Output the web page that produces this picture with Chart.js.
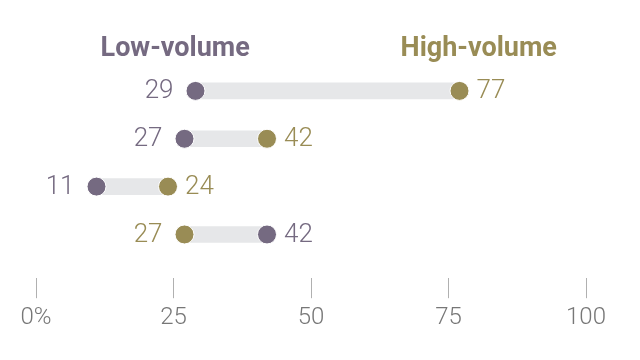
<!DOCTYPE html>
<html>
<head>
<meta charset="utf-8">
<script src="https://cdn.jsdelivr.net/npm/chart.js@4"></script>
<style>
  html, body { margin: 0; padding: 0; background: #fff; }
  #wrap { width: 640px; height: 360px; position: relative; }
</style>
</head>
<body>
<div id="wrap"><canvas id="dumbbell"></canvas></div>
<script>
const rows = [0, 1, 2, 3];
const lowVolume = [29, 27, 11, 42];
const highVolume = [77, 42, 24, 27];
const xTicks = [0, 25, 50, 75, 100];

const LOW_COLOR = '#756a81';
const HIGH_COLOR = '#998c55';
const BAR_COLOR = '#e6e7e9';
const NUM_FONT = '300 26px "Roboto", sans-serif';

// etiquetas de valor y encabezados
const labelPlugin = {
    id: 'dumbbellLabels',
    afterDatasetsDraw(chart) {
        const ctx = chart.ctx;
        const xs = chart.scales.x;
        const ys = chart.scales.y;
        ctx.save();
        ctx.font = NUM_FONT;
        ctx.textBaseline = 'middle';
        rows.forEach((r, i) => {
            const y = ys.getPixelForValue(r) + 1;
            const lo = lowVolume[i], hi = highVolume[i];
            const leftVal = Math.min(lo, hi), rightVal = Math.max(lo, hi);
            const leftColor = lo <= hi ? LOW_COLOR : HIGH_COLOR;
            const rightColor = lo <= hi ? HIGH_COLOR : LOW_COLOR;
            ctx.fillStyle = leftColor;
            ctx.textAlign = 'right';
            ctx.fillText(String(leftVal), xs.getPixelForValue(leftVal) - 22, y);
            ctx.fillStyle = rightColor;
            ctx.textAlign = 'left';
            ctx.fillText(String(rightVal), xs.getPixelForValue(rightVal) + 17, y);
        });
        ctx.font = 'bold 27px "Roboto", sans-serif';
        ctx.textAlign = 'center';
        ctx.textBaseline = 'middle';
        ctx.fillStyle = LOW_COLOR;
        ctx.fillText('Low-volume', xs.getPixelForValue(25.3), 49);
        ctx.fillStyle = HIGH_COLOR;
        ctx.fillText('High-volume', xs.getPixelForValue(80.5), 49);
        ctx.restore();
    }
};

new Chart(document.getElementById('dumbbell'), {
    type: 'bar',
    data: {
        datasets: [
            {
                label: 'Rango',
                data: rows.map((r, i) => ({ y: r, x: [lowVolume[i], highVolume[i]] })),
                backgroundColor: BAR_COLOR,
                barThickness: 16,
                order: 2
            },
            {
                type: 'scatter',
                label: 'Low-volume',
                data: rows.map((r, i) => ({ x: lowVolume[i], y: r })),
                backgroundColor: LOW_COLOR,
                borderColor: '#ffffff',
                borderWidth: 1,
                pointRadius: 9.5,
                order: 1
            },
            {
                type: 'scatter',
                label: 'High-volume',
                data: rows.map((r, i) => ({ x: highVolume[i], y: r })),
                backgroundColor: HIGH_COLOR,
                borderColor: '#ffffff',
                borderWidth: 1,
                pointRadius: 9.5,
                order: 1
            }
        ]
    },
    options: {
        indexAxis: 'y',
        responsive: true,
        maintainAspectRatio: false,
        animation: false,
        layout: { padding: { left: 36, right: 54, top: 51, bottom: 23 } },
        plugins: {
            legend: { display: false },
            tooltip: { enabled: false }
        },
        scales: {
            x: {
                type: 'linear',
                min: 0,
                max: 100,
                afterBuildTicks: (axis) => { axis.ticks = xTicks.map(v => ({ value: v })); },
                grid: { drawOnChartArea: false, drawTicks: true, tickLength: 20, color: '#b0b0b0', lineWidth: 1 },
                border: { display: false },
                ticks: {
                    padding: 5,
                    color: '#777777',
                    font: { family: 'Roboto', size: 24, weight: '300' },
                    callback: (v) => v === 0 ? '0%' : v,
                    maxRotation: 0
                }
            },
            y: {
                type: 'linear',
                reverse: true,
                min: -0.57,
                max: 3.65,
                display: false
            }
        }
    },
    plugins: [labelPlugin]
});
</script>
</body>
</html>
